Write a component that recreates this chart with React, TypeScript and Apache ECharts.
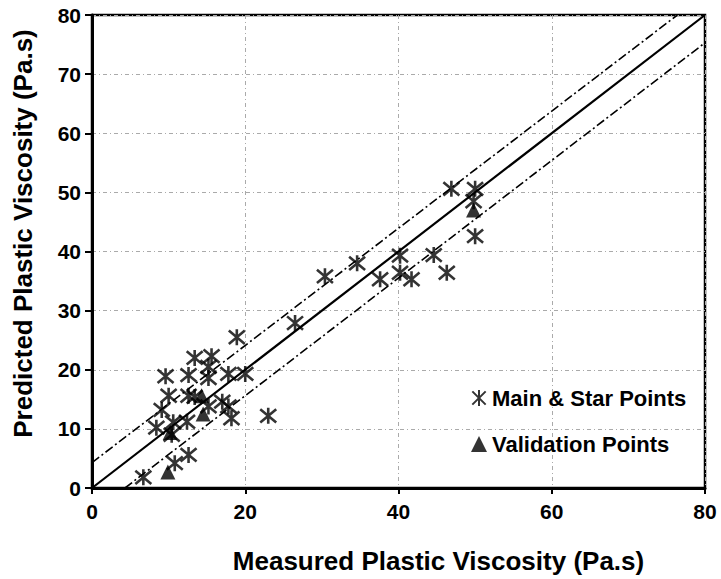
import React, { useEffect, useRef } from "react";
import * as echarts from "echarts";

const X_TICKS = [0, 20, 40, 60, 80];
const Y_TICKS = [0, 10, 20, 30, 40, 50, 60, 70, 80];

const mainPoints: number[][] = [
  [6.7, 1.8], [10.8, 4.2], [12.6, 5.6], [10.4, 9.0], [8.4, 10.2],
  [10.6, 11.1], [12.4, 11.2], [9.1, 13.2], [10.0, 15.6], [9.6, 18.9],
  [12.6, 15.6], [13.4, 15.4], [12.6, 19.1], [13.4, 22.0], [15.6, 22.3],
  [15.2, 20.5], [15.2, 18.6], [15.2, 13.8], [17.0, 14.6], [17.8, 13.8],
  [18.2, 11.8], [17.8, 19.3], [20.0, 19.3], [18.9, 25.5], [23.0, 12.2],
  [26.5, 27.9], [30.4, 35.8], [34.6, 38.0], [37.6, 35.3], [40.2, 39.3],
  [40.2, 36.4], [41.7, 35.3], [44.6, 39.4], [46.3, 36.4], [46.9, 50.6],
  [50.0, 50.6], [49.8, 48.5], [50.0, 42.6],
];

const validationPoints: number[][] = [
  [9.9, 2.7], [10.2, 9.4], [14.3, 15.6], [14.5, 12.5], [49.8, 47.0],
];

const AXIS_MAX = 80;
const identityLine: number[][] = [[0, 0], [80, 80]];
const upperBound: number[][] = [[0, 4.3], [76.4, 80]];
const lowerBound: number[][] = [[4.3, 0], [80, 75.3]];

const STAR = "path://M0,0L10,10M10,0L0,10M5,-1L5,11";

export default function App() {
  const ref = useRef<HTMLDivElement>(null);
  useEffect(() => {
    if (!ref.current) return;
    const chart = echarts.init(ref.current, undefined, { renderer: "svg" });
    const font = "Liberation Sans";
    const dashDot = [9, 3, 2, 3];
    chart.setOption({
      animation: false,
      backgroundColor: "#fff",
      grid: {
        left: 92, top: 15, right: 16, bottom: 88,
        show: true, borderColor: "#000", borderWidth: 2.5,
      },
      legend: {
        orient: "vertical",
        left: 466,
        top: 382,
        itemGap: 24,
        itemWidth: 16,
        itemHeight: 16,
        data: ["Main & Star Points", "Validation Points"],
        textStyle: { fontFamily: font, fontWeight: "bold", fontSize: 22, color: "#000" },
      },
      xAxis: {
        type: "value", min: 0, max: AXIS_MAX, interval: 20,
        name: "Measured Plastic Viscosity (Pa.s)",
        nameLocation: "middle", nameGap: 60,
        nameTextStyle: {
          fontFamily: font, fontWeight: "bold", fontSize: 26, color: "#000",
          padding: [0, 0, 0, 80],
        },
        axisLine: { lineStyle: { color: "#000", width: 3 } },
        axisTick: { show: true, length: 6, lineStyle: { color: "#000", width: 2 } },
        axisLabel: {
          fontFamily: font, fontWeight: "bold", fontSize: 21, color: "#000", margin: 13,
          formatter: (v: number) => (X_TICKS.includes(v) ? String(v) : ""),
        },
        splitLine: { show: true, lineStyle: { color: "#aaa", width: 1, type: [4, 3, 1, 3] } },
      },
      yAxis: {
        type: "value", min: 0, max: AXIS_MAX, interval: 10,
        name: "Predicted Plastic Viscosity (Pa.s)",
        nameLocation: "middle", nameGap: 56, nameRotate: 90,
        nameTextStyle: {
          fontFamily: font, fontWeight: "bold", fontSize: 26, color: "#000",
          padding: [0, 0, 0, 36],
        },
        axisLine: { lineStyle: { color: "#000", width: 3 } },
        axisTick: { show: true, length: 7, lineStyle: { color: "#000", width: 2 } },
        axisLabel: {
          fontFamily: font, fontWeight: "bold", fontSize: 21, color: "#000", margin: 11,
          formatter: (v: number) => (Y_TICKS.includes(v) ? String(v) : ""),
        },
        splitLine: { show: true, lineStyle: { color: "#aaa", width: 1, type: [4, 3, 1, 3] } },
      },
      series: [
        {
          name: "Predicted = Measured", type: "line", symbol: "none",
          data: identityLine,
          lineStyle: { color: "#000", width: 2.2 }, z: 2,
        },
        {
          name: "Upper", type: "line", symbol: "none",
          data: upperBound,
          lineStyle: { color: "#000", width: 1.6, type: dashDot }, z: 2,
        },
        {
          name: "Lower", type: "line", symbol: "none",
          data: lowerBound,
          lineStyle: { color: "#000", width: 1.6, type: dashDot }, z: 2,
        },
        {
          name: "Main & Star Points", type: "scatter", symbol: STAR, symbolSize: 16,
          data: mainPoints,
          itemStyle: { color: "#000", borderColor: "#000", borderWidth: 2.6 }, z: 3,
        },
        {
          name: "Validation Points", type: "scatter", symbol: "triangle", symbolSize: 15,
          data: validationPoints,
          itemStyle: { color: "#000" }, z: 4,
        },
      ],
    });
    return () => chart.dispose();
  }, []);
  return (
    <div
      ref={ref}
      style={{ position: "fixed", left: 0, top: 0, width: 721, height: 579, background: "#fff" }}
    />
  );
}
